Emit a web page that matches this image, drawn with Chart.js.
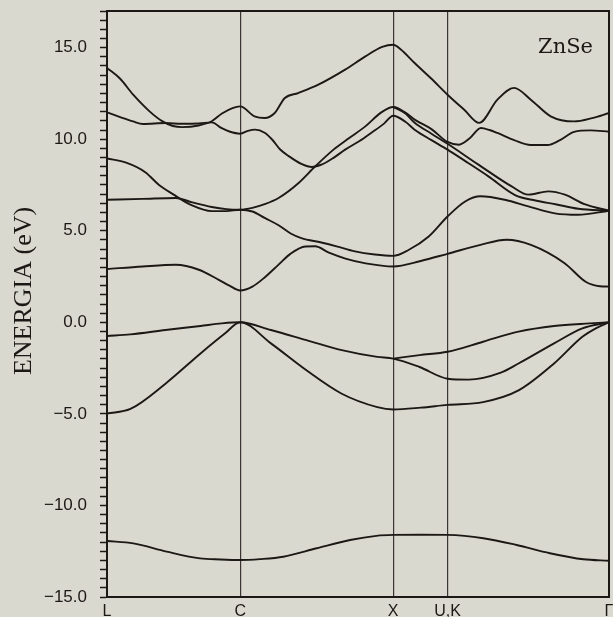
<!DOCTYPE html>
<html>
<head>
<meta charset="utf-8">
<title>ZnSe</title>
<script src="https://cdn.jsdelivr.net/npm/chart.js@4.4.1/dist/chart.umd.min.js"></script>
<style>
  html, body { margin: 0; padding: 0; background: #dad9cf; }
  #wrap { width: 613px; height: 617px; }
</style>
</head>
<body>
<div id="wrap"><canvas id="bandas" width="613" height="617"></canvas></div>
<script>
// pontos de alta simetria (eixo k) e seus rótulos
const symK = [0, 0.87, 1.87, 2.225, 3.28];
const symLabels = ['L', 'C', 'X', 'U,K', 'Γ'];
const yLabelValues = [-15, -10, -5, 0, 5, 10, 15];

// bandas (k, energia em eV)
const b1K = [0, 0.172, 0.39, 0.608, 0.74, 0.87, 1.0, 1.152, 1.37, 1.588, 1.76, 1.87, 2.05, 2.225, 2.459, 2.677, 2.894, 3.112, 3.28];
const b1E = [-11.94, -12.07, -12.52, -12.89, -12.95, -12.98, -12.93, -12.80, -12.34, -11.89, -11.66, -11.61, -11.60, -11.61, -11.79, -12.16, -12.61, -12.94, -13.02];

const b2K = [0, 0.153, 0.382, 0.611, 0.772, 0.87, 1.071, 1.303, 1.534, 1.766, 1.87, 2.05, 2.225, 2.457, 2.689, 2.921, 3.106, 3.2, 3.28];
const b2E = [-4.98, -4.73, -3.35, -1.70, -0.60, 0, -1.15, -2.62, -3.90, -4.63, -4.76, -4.66, -4.51, -4.36, -3.72, -2.25, -0.79, -0.3, 0];

const b3K = [0, 0.153, 0.382, 0.611, 0.75, 0.87, 1.071, 1.303, 1.534, 1.766, 1.87, 2.042, 2.225, 2.364, 2.573, 2.689, 2.921, 3.106, 3.28];
const b3E = [-0.75, -0.66, -0.42, -0.20, -0.06, 0, -0.42, -0.97, -1.52, -1.89, -1.98, -2.44, -3.08, -3.13, -2.75, -2.25, -1.15, -0.33, 0];

const b4K = [1.87, 2.042, 2.225, 2.457, 2.689, 2.921, 3.153, 3.28];
const b4E = [-1.98, -1.79, -1.61, -1.06, -0.51, -0.20, -0.06, 0];

const b5K = [0, 0.233, 0.449, 0.6, 0.73, 0.80, 0.87, 0.95, 1.03, 1.121, 1.2, 1.296, 1.36, 1.45, 1.558, 1.69, 1.87, 2.05, 2.225, 2.44, 2.61, 2.77, 2.99, 3.13, 3.22, 3.28];
const b5E = [2.91, 3.05, 3.14, 2.87, 2.32, 2.0, 1.74, 1.95, 2.45, 3.15, 3.75, 4.14, 4.15, 3.8, 3.48, 3.22, 3.05, 3.35, 3.74, 4.23, 4.51, 4.23, 3.23, 2.2, 1.97, 1.95];

const b6K = [0, 0.125, 0.25, 0.34, 0.43, 0.556, 0.684, 0.78, 0.87, 0.95, 1.03, 1.121, 1.2, 1.27, 1.4, 1.5, 1.62, 1.75, 1.87, 1.97, 2.102, 2.225, 2.34, 2.44, 2.6, 2.753, 2.926, 3.078, 3.28];
const b6E = [8.95, 8.72, 8.2, 7.5, 7.0, 6.38, 6.07, 6.07, 6.15, 6.05, 5.7, 5.3, 4.85, 4.6, 4.36, 4.15, 3.87, 3.7, 3.63, 3.95, 4.69, 5.78, 6.60, 6.88, 6.69, 6.33, 5.95, 5.87, 6.09];

const b7K = [0, 0.233, 0.449, 0.557, 0.684, 0.78, 0.87, 0.95, 1.03, 1.121, 1.252, 1.361, 1.48, 1.58, 1.688, 1.79, 1.87, 1.95, 2.01, 2.12, 2.225, 2.3, 2.37, 2.443, 2.50, 2.551, 2.66, 2.769, 2.878, 2.96, 3.052, 3.16, 3.28];
const b7E = [6.69, 6.74, 6.79, 6.55, 6.3, 6.18, 6.15, 6.25, 6.45, 6.79, 7.61, 8.52, 9.43, 10.05, 10.70, 11.45, 11.76, 11.45, 11.07, 10.55, 9.85, 9.70, 10.05, 10.61, 10.5, 10.34, 9.95, 9.68, 9.68, 9.95, 10.4, 10.48, 10.41];

const b8K = [0, 0.086, 0.17, 0.235, 0.385, 0.49, 0.6, 0.684, 0.75, 0.80, 0.87, 0.92, 0.968, 1.03, 1.08, 1.13, 1.19, 1.27, 1.339, 1.405, 1.48, 1.556, 1.65, 1.732, 1.81, 1.87, 1.95, 2.01, 2.12, 2.225, 2.36, 2.492, 2.666, 2.80, 2.93, 3.08, 3.28];
const b8E = [11.47, 11.21, 10.97, 10.83, 10.88, 10.84, 10.86, 10.92, 10.6, 10.42, 10.30, 10.45, 10.52, 10.35, 9.97, 9.45, 9.06, 8.65, 8.48, 8.62, 8.98, 9.43, 9.9, 10.38, 10.85, 11.28, 10.95, 10.52, 9.95, 9.43, 8.7, 7.97, 6.95, 6.65, 6.45, 6.2, 6.09];

const b9K = [1.87, 1.95, 2.01, 2.12, 2.225, 2.427, 2.644, 2.753, 2.883, 2.992, 3.12, 3.28];
const b9E = [11.76, 11.4, 10.9, 10.3, 9.75, 8.61, 7.42, 6.97, 7.15, 6.97, 6.45, 6.09];

const b10K = [0, 0.086, 0.171, 0.278, 0.363, 0.43, 0.492, 0.599, 0.684, 0.751, 0.82, 0.87, 0.964, 1.03, 1.096, 1.162, 1.249, 1.381, 1.556, 1.688, 1.798, 1.87, 1.92, 2.01, 2.12, 2.225, 2.334, 2.432, 2.551, 2.66, 2.769, 2.899, 3.052, 3.17, 3.28];
const b10E = [13.89, 13.3, 12.43, 11.52, 10.97, 10.72, 10.66, 10.75, 10.98, 11.40, 11.7, 11.79, 11.25, 11.16, 11.43, 12.25, 12.52, 12.98, 13.80, 14.52, 15.04, 15.16, 14.9, 14.16, 13.3, 12.43, 11.61, 10.89, 12.16, 12.80, 12.16, 11.25, 10.97, 11.15, 11.43];

const bandas = [[b1K, b1E], [b2K, b2E], [b3K, b3E], [b4K, b4E], [b5K, b5E], [b6K, b6E], [b7K, b7E], [b8K, b8E], [b9K, b9E], [b10K, b10E]];

const ink = '#1c1816';

// moldura completa + textos fixos (ZnSe e título do eixo)
const moldura = {
    id: 'moldura',
    afterDraw(chart) {
        const { ctx, chartArea: a } = chart;
        ctx.save();
        ctx.strokeStyle = ink;
        ctx.lineWidth = 2;
        ctx.strokeRect(a.left, a.top, a.right - a.left, a.bottom - a.top);
        ctx.fillStyle = ink;
        ctx.font = '21px "DejaVu Serif"';
        ctx.textAlign = 'right';
        ctx.textBaseline = 'alphabetic';
        ctx.fillText('ZnSe', a.right - 16, a.top + 42);
        ctx.translate(31, 291);
        ctx.rotate(-Math.PI / 2);
        ctx.font = '26px "Liberation Serif"';
        ctx.textAlign = 'center';
        ctx.fillText('ENERGIA (eV)', 0, 0);
        ctx.restore();
    }
};

const config = {
    type: 'line',
    data: {
        datasets: bandas.map(([k, e]) => ({
            data: k.map((x, i) => ({ x: x, y: e[i] })),
            borderColor: ink,
            borderWidth: 1.9,
            pointRadius: 0,
            cubicInterpolationMode: 'monotone',
            fill: false
        }))
    },
    options: {
        responsive: false,
        animation: false,
        devicePixelRatio: 1,
        layout: { padding: { left: 0, top: 11, right: 4, bottom: 0 } },
        plugins: {
            legend: { display: false },
            tooltip: { enabled: false }
        },
        scales: {
            x: {
                type: 'linear',
                min: 0,
                max: 3.28,
                afterBuildTicks: (s) => { s.ticks = symK.map(v => ({ value: v })); },
                ticks: {
                    autoSkip: false,
                    maxRotation: 0,
                    padding: 5,
                    color: ink,
                    font: { family: 'Liberation Sans', size: 16 },
                    callback: (v, i) => symLabels[i]
                },
                grid: { color: '#3a3532', lineWidth: 1.2, drawTicks: false },
                border: { color: ink, width: 2 },
                afterFit: (s) => { s.height = 20; s.paddingLeft = 0; s.paddingRight = 0; }
            },
            y: {
                min: -15,
                max: 17,
                ticks: {
                    stepSize: 0.5,
                    autoSkip: false,
                    padding: 13,
                    color: ink,
                    font: { family: 'Liberation Sans', size: 17 },
                    callback: (v) => yLabelValues.includes(v) ? v.toFixed(1).replace('-', '\u2212') : ''
                },
                grid: { drawOnChartArea: false, tickLength: 7, tickColor: ink, tickWidth: 1.5 },
                border: { color: ink, width: 2 },
                afterFit: (s) => { s.width = 107; s.paddingTop = 0; s.paddingBottom = 0; }
            }
        }
    },
    plugins: [moldura]
};

const ctx = document.getElementById('bandas').getContext('2d');
const grafico = new Chart(ctx, config);
</script>
</body>
</html>
